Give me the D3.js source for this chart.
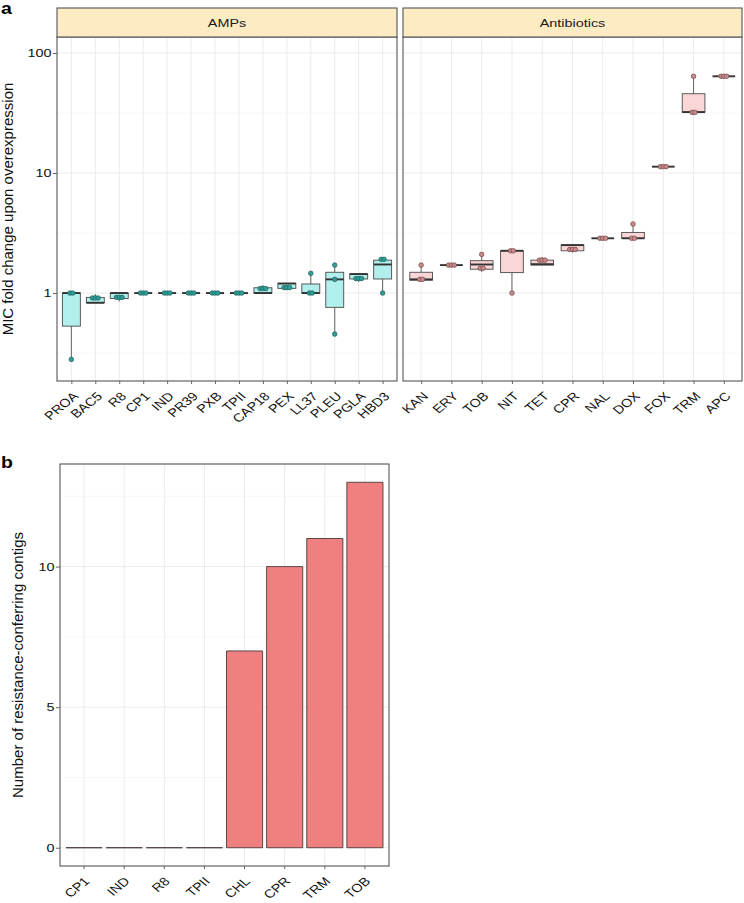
<!DOCTYPE html>
<html><head><meta charset="utf-8">
<script src="https://cdn.jsdelivr.net/npm/d3@7"></script>
<style>
html,body{margin:0;padding:0;background:#fff;}
svg{display:block;font-family:"Liberation Sans",Arial,Helvetica,sans-serif;}
</style></head>
<body><svg id="c" width="744" height="903"></svg>
<script>
// ---------- Panel a data ----------
const ampCats  = ["PROA","BAC5","R8","CP1","IND","PR39","PXB","TPII","CAP18","PEX","LL37","PLEU","PGLA","HBD3"];
const ampLow   = [0.28, 0.83, 0.85, 1, 1, 1, 1, 1, 1.0,  1.06, 1.0,  0.455, 1.24, 1.0];
const ampQ1    = [0.53, 0.83, 0.90, 1, 1, 1, 1, 1, 1.0,  1.094,1.0,  0.76,  1.31, 1.31];
const ampMed   = [1.0,  0.83, 1.0,  1, 1, 1, 1, 1, 1.0,  1.2,  1.0,  1.30,  1.44, 1.73];
const ampQ3    = [1.0,  0.92, 1.0,  1, 1, 1, 1, 1, 1.107,1.205,1.19, 1.49,  1.44, 1.88];
const ampHigh  = [1.0,  0.98, 1.0,  1, 1, 1, 1, 1, 1.166,1.205,1.46, 1.71,  1.44, 1.94];
const ampPoints = [[1,1,0.28],[0.91,0.91,0.91],[0.92,0.92,0.92],[1,1,1],[1,1,1],[1,1,1],[1,1,1],[1,1,1],
                   [1.09,1.09,1.09],[1.11,1.11,1.11],[1.46,1,1],[1.71,1.30,0.455],[1.32,1.32,1.32],[1.91,1.91,1.0]];

const abxCats  = ["KAN","ERY","TOB","NIT","TET","CPR","NAL","DOX","FOX","TRM","APC"];
const abxLow   = [1.28, 1.71, 1.50, 1.0,  1.71, 2.17, 2.86, 2.86, 11.3, 32.2, 64];
const abxQ1    = [1.28, 1.71, 1.58, 1.48, 1.71, 2.25, 2.86, 2.86, 11.3, 32.2, 64];
const abxMed   = [1.30, 1.71, 1.73, 2.25, 1.74, 2.51, 2.86, 2.86, 11.3, 32.2, 64];
const abxQ3    = [1.49, 1.71, 1.86, 2.25, 1.88, 2.51, 2.86, 3.20, 11.3, 45.8, 64];
const abxHigh  = [1.71, 1.71, 2.10, 2.25, 2.00, 2.51, 2.86, 3.76, 11.3, 64.7, 64];
const abxPoints = [[1.71,1.30,1.30],[1.71,1.71,1.71],[2.10,1.61,1.61],[2.25,2.25,1.0],[1.88,1.88,1.88],[2.31,2.31,2.31],
                   [2.86,2.86,2.86],[3.76,2.86,2.86],[11.3,11.3,11.3],[64,32,32],[64,64,64]];

const yTicksA = [1, 10, 100];
const yMinorA = [0.316, 3.16, 31.6];
const facetLabels = ["AMPs","Antibiotics"];
const yLabelA = "MIC fold change upon overexpression";

// ---------- Panel b data ----------
const bCats   = ["CP1","IND","R8","TPII","CHL","CPR","TRM","TOB"];
const bValues = [0, 0, 0, 0, 7, 10, 11, 13];
const yTicksB = [0, 5, 10];
const yMinorB = [2.5, 7.5, 12.5];
const yLabelB = "Number of resistance-conferring contigs";

// ---------- drawing ----------
const svg = d3.select("#c");
const FS = 11.8, TFS = 15, SX = 1.22;   // tick text in the reference is horizontally wide
const gridCol = "#ebebeb", minorCol = "#f4f4f4", borderCol = "#555";

// panel labels
svg.append("text").attr("transform",`translate(1,14) scale(${SX},1)`).attr("font-size",16).attr("font-weight","bold").text("a");
svg.append("text").attr("transform",`translate(1,468) scale(${SX},1)`).attr("font-size",16).attr("font-weight","bold").text("b");

function styleXLabels(sel, dx) {
  sel.selectAll(".tick text").attr("font-size",FS).attr("fill","#111").attr("text-anchor","end")
    .attr("x",0).attr("y",0).attr("dy","0.72em")
    .attr("transform",`translate(${dx},10) scale(${SX},1) rotate(-45)`);
}
function styleYLabels(sel) {
  sel.selectAll(".tick text").attr("font-size",FS).attr("fill","#111")
    .attr("x",-4.5).attr("transform",`scale(${SX},1)`);
}

// Panel a geometry
const aTop = 37, aBot = 381, stripTop = 8;
const yA = d3.scaleLog().domain([0.185, 136]).range([aBot, aTop]);

function facet(x0, x1, cats, lo, q1, med, q3, hi, pts, boxFill, ptFill, ptStroke, label, showY) {
  const g = svg.append("g");
  const x = d3.scalePoint().domain(cats).range([x0, x1]).padding(0.6);
  const step = x.step(), bw = step * 0.75;
  g.selectAll(".mn").data(yMinorA).join("line").attr("x1",x0).attr("x2",x1)
    .attr("y1",d=>yA(d)).attr("y2",d=>yA(d)).attr("stroke",minorCol).attr("stroke-width",0.6);
  g.selectAll(".mj").data(yTicksA).join("line").attr("x1",x0).attr("x2",x1)
    .attr("y1",d=>yA(d)).attr("y2",d=>yA(d)).attr("stroke",gridCol).attr("stroke-width",1);
  g.selectAll(".vx").data(cats).join("line").attr("x1",d=>x(d)).attr("x2",d=>x(d))
    .attr("y1",aTop).attr("y2",aBot).attr("stroke",gridCol).attr("stroke-width",1);
  cats.forEach((c,i)=>{
    const cx = x(c);
    g.append("line").attr("x1",cx).attr("x2",cx).attr("y1",yA(hi[i])).attr("y2",yA(q3[i])).attr("stroke","#555").attr("stroke-width",0.9);
    g.append("line").attr("x1",cx).attr("x2",cx).attr("y1",yA(q1[i])).attr("y2",yA(lo[i])).attr("stroke","#555").attr("stroke-width",0.9);
    g.append("rect").attr("x",cx-bw/2).attr("width",bw).attr("y",yA(q3[i]))
      .attr("height",Math.max(0,yA(q1[i])-yA(q3[i]))).attr("fill",boxFill).attr("stroke","#4a4a4a").attr("stroke-width",0.9);
    g.append("line").attr("x1",cx-bw/2).attr("x2",cx+bw/2).attr("y1",yA(med[i])).attr("y2",yA(med[i]))
      .attr("stroke","#333").attr("stroke-width",1.9);
    const counts = d3.rollup(pts[i], v=>v.length, d=>d);
    const seen = new Map();
    pts[i].forEach(v=>{
      const n = counts.get(v), k = seen.get(v)||0; seen.set(v,k+1);
      const off = (k-(n-1)/2)*2.8;
      g.append("circle").attr("cx",cx+off).attr("cy",yA(v)).attr("r",2.3)
        .attr("fill",ptFill).attr("stroke",ptStroke).attr("stroke-width",0.7);
    });
  });
  g.append("rect").attr("x",x0).attr("y",aTop).attr("width",x1-x0).attr("height",aBot-aTop)
    .attr("fill","none").attr("stroke",borderCol).attr("stroke-width",1.1);
  g.append("rect").attr("x",x0).attr("y",stripTop).attr("width",x1-x0).attr("height",aTop-stripTop)
    .attr("fill","#fdebc3").attr("stroke",borderCol).attr("stroke-width",1.1);
  g.append("text").attr("transform",`translate(${(x0+x1)/2},${(stripTop+aTop)/2}) scale(${SX},1)`).attr("dy","0.36em")
    .attr("text-anchor","middle").attr("font-size",FS).attr("fill","#1a1a1a").text(label);
  const xa = g.append("g").attr("transform",`translate(0,${aBot})`)
    .call(d3.axisBottom(x).tickSize(3).tickPadding(0));
  xa.select(".domain").remove();
  xa.selectAll(".tick line").attr("stroke","#666");
  styleXLabels(xa, 0);
  if (showY) {
    const ya = g.append("g").attr("transform",`translate(${x0},0)`)
      .call(d3.axisLeft(yA).tickValues(yTicksA).tickFormat(d3.format("d")).tickSize(4).tickPadding(3));
    ya.select(".domain").remove();
    ya.selectAll(".tick line").attr("stroke","#666");
    styleYLabels(ya);
  }
}

facet(57, 397, ampCats, ampLow, ampQ1, ampMed, ampQ3, ampHigh, ampPoints, "#b0efec", "#2d9f98", "#1f5f5c", facetLabels[0], true);
facet(403, 742, abxCats, abxLow, abxQ1, abxMed, abxQ3, abxHigh, abxPoints, "#fad6d6", "#c98b8b", "#6e4444", facetLabels[1], false);

svg.append("text").attr("transform",`translate(12.5,${(aTop+aBot)/2}) rotate(-90)`)
  .attr("text-anchor","middle").attr("font-size",TFS).attr("fill","#111").text(yLabelA);

// Panel b
const bL = 60, bR = 389, bT = 464, bB = 866;
const xB = d3.scaleBand().domain(bCats).range([bL,bR]).paddingInner(0.1).paddingOuter(0.15);
const yB = d3.scaleLinear().domain([-0.65, 13.65]).range([bB, bT]);
const gb = svg.append("g");
gb.selectAll(".mn").data(yMinorB).join("line").attr("x1",bL).attr("x2",bR)
  .attr("y1",d=>yB(d)).attr("y2",d=>yB(d)).attr("stroke",minorCol).attr("stroke-width",0.6);
gb.selectAll(".mj").data(yTicksB).join("line").attr("x1",bL).attr("x2",bR)
  .attr("y1",d=>yB(d)).attr("y2",d=>yB(d)).attr("stroke",gridCol).attr("stroke-width",1);
gb.selectAll(".vx").data(bCats).join("line").attr("x1",d=>xB(d)+xB.bandwidth()/2).attr("x2",d=>xB(d)+xB.bandwidth()/2)
  .attr("y1",bT).attr("y2",bB).attr("stroke",gridCol).attr("stroke-width",1);
gb.selectAll(".bar").data(bCats).join("path")
  .attr("d",(d,i)=>{
    const x0 = xB(d), w = xB.bandwidth(), yt = yB(bValues[i]), h = yB(0)-yB(bValues[i]);
    return `M${x0},${yt}h${w}v${h}h${-w}Z`;
  })
  .attr("fill","#f08080").attr("stroke","#4a3a3a").attr("stroke-width",0.9);
gb.append("rect").attr("x",bL).attr("y",bT).attr("width",bR-bL).attr("height",bB-bT)
  .attr("fill","none").attr("stroke",borderCol).attr("stroke-width",1.1);
const xbA = gb.append("g").attr("transform",`translate(0,${bB})`).call(d3.axisBottom(xB).tickSize(3).tickPadding(0));
xbA.select(".domain").remove();
xbA.selectAll(".tick line").attr("stroke","#666");
styleXLabels(xbA, -1);
const ybA = gb.append("g").attr("transform",`translate(${bL},0)`)
  .call(d3.axisLeft(yB).tickValues(yTicksB).tickSize(4).tickPadding(3));
ybA.select(".domain").remove();
ybA.selectAll(".tick line").attr("stroke","#666");
styleYLabels(ybA);
svg.append("text").attr("transform",`translate(23,${(bT+bB)/2}) rotate(-90)`)
  .attr("text-anchor","middle").attr("font-size",TFS).attr("fill","#111").text(yLabelB);
</script></body></html>
